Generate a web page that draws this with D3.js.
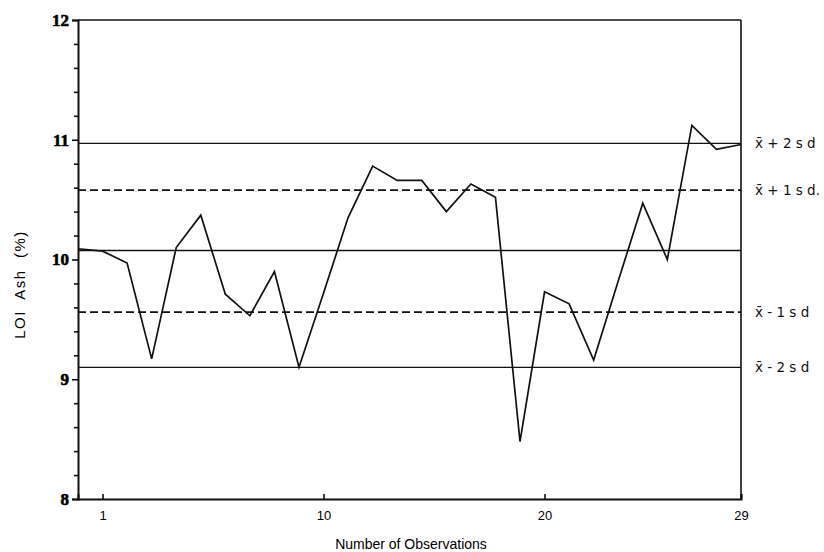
<!DOCTYPE html>
<html>
<head>
<meta charset="utf-8">
<script src="https://cdn.jsdelivr.net/npm/d3@7"></script>
<style>
  body { margin: 0; background: #fff; }
  svg { display: block; }
</style>
</head>
<body>
<div id="chart"></div>
<script>
var observations = d3.range(1, 29);
var ashValues = [10.09, 10.07, 9.97, 9.17, 10.10, 10.37, 9.71, 9.53, 9.90, 9.10,
                 9.72, 10.35, 10.78, 10.66, 10.66, 10.40, 10.63, 10.52, 8.48, 9.73,
                 9.63, 9.16, 9.82, 10.47, 10.00, 11.12, 10.92, 10.96];

// control limits: mean and +/- 1 and 2 standard deviations
var limitValues = [10.97, 10.58, 10.075, 9.56, 9.10];
var limitLabels = ["x\u0304 + 2 s d", "x\u0304 + 1 s d.", "", "x\u0304 - 1 s d", "x\u0304 - 2 s d"];
var limitDashed = [false, true, false, true, false];

// axis ticks as printed on the original
var yTicks = [8, 9, 10, 11, 12];
var xTickAt = [2, 11, 20, 28];
var xTickLabels = ["1", "10", "20", "29"];

// set the dimensions and margins of the graph
var margin = {top: 20, right: 83, bottom: 53, left: 78},
    width = 824 - margin.left - margin.right,
    height = 552 - margin.top - margin.bottom;

var svg = d3.select("#chart")
  .append("svg")
    .attr("width", 824)
    .attr("height", 552)
  .append("g")
    .attr("transform", "translate(" + margin.left + "," + margin.top + ")");

var x = d3.scaleLinear()
  .domain([1, 28])
  .range([0, width]);

var y = d3.scaleLinear()
  .domain([8, 12])
  .range([height, 0]);

// frame: top and right border
svg.append("line")
  .attr("x1", 0).attr("x2", width)
  .attr("y1", 0).attr("y2", 0)
  .attr("stroke", "#111").attr("stroke-width", 1.5);
svg.append("line")
  .attr("x1", width).attr("x2", width)
  .attr("y1", 0).attr("y2", height)
  .attr("stroke", "#111").attr("stroke-width", 1.6);

// minor y ticks every 0.2
var minor = d3.range(8, 12.001, 0.2).filter(function(d) { return Math.abs(d - Math.round(d)) > 0.01; });
svg.append("g")
  .attr("class", "minor")
  .call(d3.axisLeft(y).tickValues(minor).tickSize(4).tickFormat(""))
  .call(function(g) { g.select(".domain").remove(); });

// y axis
svg.append("g")
  .attr("class", "y axis")
  .call(d3.axisLeft(y).tickValues(yTicks).tickSize(6).tickPadding(3).tickFormat(d3.format("d")))
  .selectAll("text")
    .style("font-family", "'Liberation Serif', serif")
    .style("font-weight", "bold")
    .style("font-size", "17px")
    .style("stroke", "#000")
    .style("stroke-width", 0.6);

// x axis, ticks pointing inward
svg.append("g")
  .attr("class", "x axis")
  .attr("transform", "translate(0," + height + ")")
  .call(d3.axisBottom(x).tickValues(xTickAt).tickSize(-5).tickPadding(12)
    .tickFormat(function(d, i) { return xTickLabels[i]; }))
  .selectAll("text")
    .style("font-family", "'Liberation Sans', Arial, sans-serif")
    .style("font-size", "13px");

svg.selectAll(".axis .domain, .axis line, .minor line")
  .attr("stroke", "#111")
  .attr("stroke-width", 1.6);
svg.selectAll(".axis .domain").attr("stroke-width", 2);

// control limit lines
svg.append("g")
  .selectAll("line.limit")
  .data(limitValues)
  .enter()
  .append("line")
    .attr("class", "limit")
    .attr("x1", 0)
    .attr("x2", width)
    .attr("y1", function(d) { return y(d); })
    .attr("y2", function(d) { return y(d); })
    .attr("stroke", "#111")
    .attr("stroke-width", function(d, i) { return limitDashed[i] ? 1.8 : 1.3; })
    .attr("stroke-dasharray", function(d, i) { return limitDashed[i] ? "8,4" : null; });

// labels to the right of the frame
svg.append("g")
  .selectAll("text.limit")
  .data(limitValues)
  .enter()
  .append("text")
    .attr("class", "limit")
    .attr("x", width + 14)
    .attr("y", function(d) { return y(d); })
    .attr("dy", "0.35em")
    .style("font-family", "'DejaVu Sans', 'Liberation Sans', sans-serif")
    .style("font-size", "13.5px")
    .style("fill", "#111")
    .text(function(d, i) { return limitLabels[i]; });

// the data line
var line = d3.line()
  .x(function(d, i) { return x(observations[i]); })
  .y(function(d) { return y(d); });

svg.append("path")
  .datum(ashValues)
  .attr("fill", "none")
  .attr("stroke", "#111")
  .attr("stroke-width", 1.7)
  .attr("stroke-linejoin", "miter")
  .attr("d", line);

// axis titles
svg.append("text")
  .attr("x", 333)
  .attr("y", height + 50)
  .attr("text-anchor", "middle")
  .style("font-family", "'Liberation Sans', Arial, sans-serif")
  .style("font-size", "14px")
  .text("Number of Observations");

svg.append("text")
  .attr("transform", "translate(" + (-margin.left + 25) + "," + (y(10) + 25) + ") rotate(-90)")
  .attr("text-anchor", "middle")
  .style("font-family", "'Liberation Sans', Arial, sans-serif")
  .style("font-size", "15px")
  .style("letter-spacing", "1.5px")
  .style("white-space", "pre")
  .text("LOI  Ash  (%)");
</script>
</body>
</html>
